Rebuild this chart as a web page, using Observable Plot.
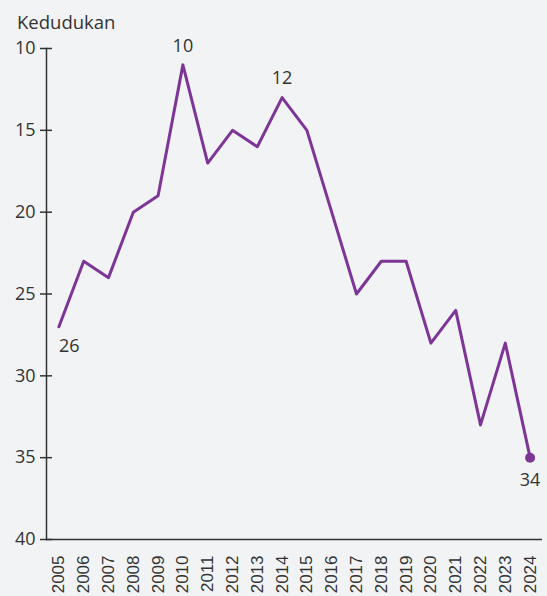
<!DOCTYPE html>
<html>
<head>
<meta charset="utf-8">
<script src="https://cdn.jsdelivr.net/npm/d3@7"></script>
<script src="https://cdn.jsdelivr.net/npm/@observablehq/plot@0.6"></script>
<style>
  html, body { margin: 0; padding: 0; background: #f2f3f5; }
  #wrap { position: relative; width: 547px; height: 596px; }
  #ylabel { position: absolute; left: 17px; top: 9px; font-family: "Open Sans", sans-serif; font-size: 18.5px; color: #333; }
</style>
</head>
<body>
<div id="wrap"><div id="ylabel">Kedudukan</div></div>
<script>
const years = [2005,2006,2007,2008,2009,2010,2011,2012,2013,2014,2015,2016,2017,2018,2019,2020,2021,2022,2023,2024];
const ranks = [27,23,24,20,19,11,17,15,16,13,15,20,25,23,23,28,26,33,28,35];
const yTicks = [10,15,20,25,30,35,40];
const labelYears = [2005,2010,2014,2024];
const labelTexts = ["26","10","12","34"];

const data = years.map((y, i) => ({year: y, rank: ranks[i]}));
const labels = labelYears.map((y, i) => ({year: y, rank: ranks[years.indexOf(y)], text: labelTexts[i]}));
const color = "#7d3596";

const chart = Plot.plot({
  width: 547,
  height: 596,
  marginTop: 48,
  marginBottom: 57,
  marginLeft: 46,
  marginRight: 5,
  style: {background: "transparent", fontFamily: "Open Sans, sans-serif", color: "#333"},
  x: {type: "point", domain: years, padding: 0.5, round: false, label: null},
  y: {domain: [10, 40], reverse: true, label: null},
  marks: [
    Plot.frame({anchor: "left", stroke: "#333", strokeWidth: 1.5}),
    Plot.ruleY([40], {stroke: "#333", strokeWidth: 1.5}),
    Plot.axisY(yTicks, {tickSize: 12, dx: 6, tickFormat: () => "", stroke: "#333", strokeWidth: 1.5}),
    Plot.axisY(yTicks, {tickSize: 0, tickPadding: 11, fontSize: 18, fill: "#333"}),
    Plot.axisX(years, {tickSize: 0, tickRotate: -90, tickPadding: 16, tickFormat: d => String(d), fontSize: 17, fontFamily: "Liberation Sans, sans-serif", fill: "#333"}),
    Plot.line(data, {x: "year", y: "rank", stroke: color, strokeWidth: 3}),
    Plot.dot(data.filter(d => d.year === 2024), {x: "year", y: "rank", r: 5, fill: color}),
    Plot.text(labels.filter(d => d.year === 2010 || d.year === 2014), {x: "year", y: "rank", text: "text", dy: -19, fontSize: 18, fill: "#333"}),
    Plot.text(labels.filter(d => d.year === 2005), {x: "year", y: "rank", text: "text", dy: 20, textAnchor: "start", fontSize: 18, fill: "#333"}),
    Plot.text(labels.filter(d => d.year === 2024), {x: "year", y: "rank", text: "text", dy: 23, fontSize: 18, fill: "#333"})
  ]
});
document.getElementById("wrap").appendChild(chart);
</script>
</body>
</html>
